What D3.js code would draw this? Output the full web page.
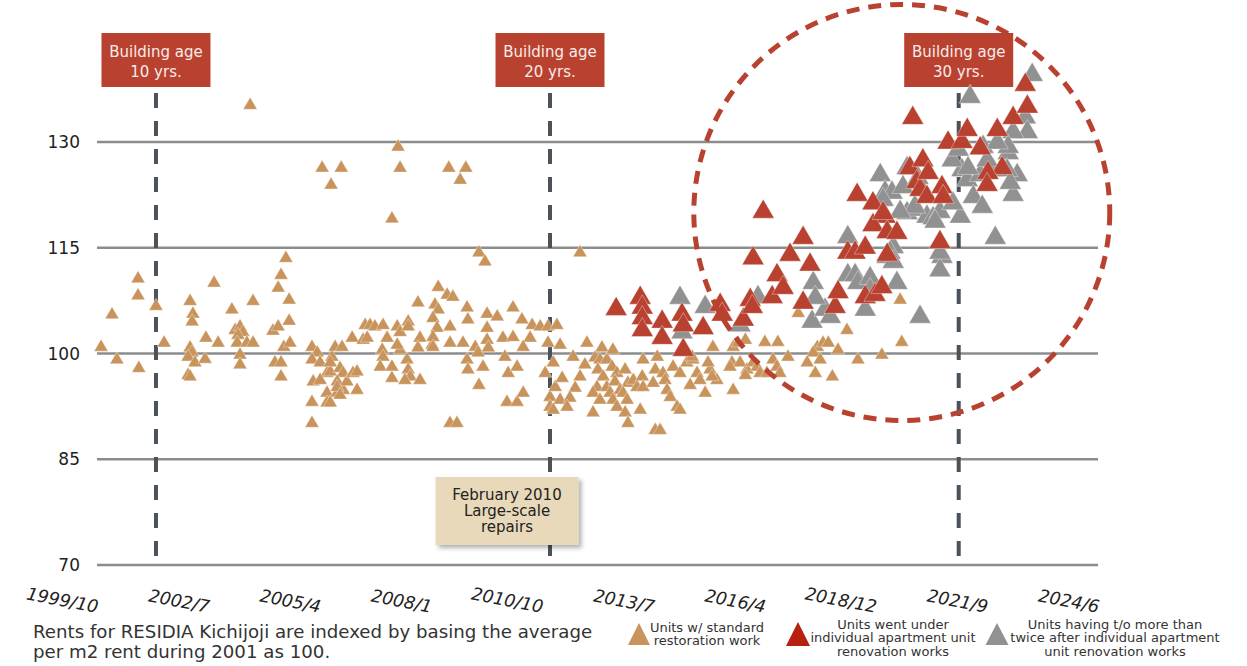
<!DOCTYPE html>
<html>
<head>
<meta charset="utf-8">
<script src="https://cdn.jsdelivr.net/npm/d3@7"></script>
<style>
  html, body { margin: 0; padding: 0; background: #fff; }
  svg { display: block; font-family: "DejaVu Sans", Verdana, sans-serif; }
</style>
</head>
<body>
<svg id="chart" width="1247" height="666"></svg>
<script>
// ---------------- DATA ----------------
// x tick labels (Excel date axis, major unit 1000 days from 1999/10/31)
const xTickLabels = ["1999/10","2002/7","2005/4","2008/1","2010/10","2013/7","2016/4","2018/12","2021/9","2024/6"];
const yTicks = [70, 85, 100, 115, 130];

// [decimal year, rent index]
const standard = [
[1999.93,100.9],[2000.20,105.5],[2000.32,99.1],[2000.84,110.6],[2000.84,108.2],[2000.86,97.9],[2001.28,106.7],[2001.48,101.5],
[2002.12,107.4],[2002.19,105.6],[2002.17,104.5],[2002.12,100.8],[2002.17,100.1],[2002.07,99.5],[2002.24,98.7],[2002.07,96.9],[2002.12,96.7],
[2002.51,102.2],[2002.49,99.2],[2002.71,110.0],[2002.81,101.5],[2003.15,106.2],[2003.23,103.3],[2003.35,103.8],[2003.42,103.0],[2003.30,102.6],
[2003.28,101.5],[2003.35,99.8],[2003.35,98.4],[2003.52,101.5],[2003.67,101.5],[2003.67,107.4],[2003.60,135.2],[2004.16,103.2],[2004.29,103.8],
[2004.21,98.7],[2004.36,98.7],[2004.36,96.7],[2004.43,100.9],[2004.58,101.5],[2004.48,113.5],[2004.36,111.1],[2004.29,109.3],[2004.56,107.6],
[2004.56,104.6],[2005.37,126.3],[2005.84,126.3],[2005.59,123.9],[2007.24,129.3],[2007.29,126.3],[2007.09,119.1],[2008.49,126.3],[2008.91,126.3],
[2008.77,124.6],[2009.23,114.3],[2009.38,113.0],[2011.72,114.3],
[2005.12,100.9],[2005.25,100.1],[2005.12,99.1],[2005.32,98.7],[2005.49,97.2],[2005.15,96.0],[2005.32,96.2],[2005.12,93.1],[2005.12,90.1],
[2005.49,94.4],[2005.49,93.0],[2005.61,99.5],[2005.57,97.4],[2005.74,94.4],[2005.89,94.8],[2005.81,97.9],[2005.89,97.2],[2005.74,96.0],
[2005.98,96.0],[2006.13,97.2],[2006.23,97.4],[2006.23,94.8],[2005.69,100.9],[2005.86,100.9],[2006.11,102.2],[2005.57,98.7],[2005.74,95.2],
[2005.57,93.0],[2005.81,94.1],
[2006.43,104.0],[2006.55,104.0],[2006.67,103.8],[2006.38,101.9],[2006.48,102.2],[2006.87,104.0],[2006.97,102.2],[2007.22,103.8],[2007.29,103.0],
[2007.49,104.5],[2007.49,103.8],[2006.85,100.5],[2006.87,99.5],[2006.80,98.1],[2007.09,98.1],[2007.09,96.5],[2007.29,100.5],[2007.22,101.2],
[2007.46,99.1],[2007.49,97.7],[2007.54,96.7],[2007.41,96.2],[2007.78,96.2],[2007.78,102.2],[2007.73,100.8],[2008.08,101.2],[2007.73,107.2],
[2008.23,109.4],[2008.45,108.3],[2008.59,108.0],[2008.15,106.9],[2008.23,106.2],[2008.10,105.0],[2008.20,103.6],[2008.10,102.3],[2008.10,100.9],
[2008.52,103.8],[2008.52,101.5],[2008.94,106.5],[2008.96,104.8],[2008.84,101.5],[2009.14,100.9],[2008.52,90.1],[2008.69,90.1],[2008.94,99.1],
[2008.96,97.7],[2009.23,95.5],[2009.21,100.1],[2009.33,98.1],[2009.43,105.6],[2009.68,105.2],[2010.07,106.5],[2010.29,104.8],[2009.43,103.6],
[2009.43,101.9],[2009.46,100.8],[2010.54,104.0],[2010.74,103.8],[2010.93,103.8],[2011.15,104.0],[2009.82,102.2],[2010.07,102.3],[2010.49,102.2],
[2010.32,100.9],[2009.87,99.5],[2009.95,97.2],[2010.17,98.1],[2009.92,93.1],[2010.17,93.1],[2010.32,94.4],[2010.86,97.2],[2010.98,93.8],
[2010.98,92.4],[2010.93,101.5],[2011.06,98.7],[2011.11,95.2],[2011.23,93.4],[2011.06,92.0],[2011.28,96.5],[2011.23,101.2],
[2011.89,101.5],[2011.55,99.5],[2011.84,98.4],[2011.72,96.7],[2011.60,95.1],[2011.47,93.7],[2011.40,92.4],[2012.09,99.4],[2012.26,100.8],
[2012.21,99.1],[2012.38,99.1],[2012.16,97.7],[2012.29,96.7],[2012.14,95.2],[2012.04,94.4],[2012.38,95.2],[2012.46,94.4],[2012.21,93.4],
[2012.04,91.6],[2012.53,100.5],[2012.51,98.1],[2012.63,97.2],[2012.58,96.0],[2012.71,94.8],[2012.53,93.4],[2012.63,92.4],[2012.83,97.7],
[2012.90,95.8],[2012.78,94.4],[2012.88,93.4],[2012.83,91.6],[2012.90,90.1],[2013.03,96.2],[2013.12,95.2],[2013.25,96.7],[2013.27,95.2],
[2013.20,92.0],[2013.57,89.1],[2013.69,89.1],[2013.62,99.5],[2013.57,97.7],[2013.52,95.8],[2013.76,97.2],[2013.81,96.2],[2013.86,94.8],
[2013.94,93.8],[2014.11,92.4],[2014.18,92.0],[2014.01,98.1],[2014.18,97.2],[2014.35,98.7],[2014.50,99.1],[2014.60,97.2],[2014.67,96.2],
[2014.80,94.4],[2014.99,100.9],[2014.92,97.7],[2015.09,96.2],[2015.49,100.9],[2015.61,101.5],[2015.46,98.7],[2015.66,98.7],[2015.83,97.7],
[2015.98,98.7],[2016.08,98.1],[2016.15,97.2],[2015.49,94.8],[2015.79,101.9],[2016.27,101.6],[2016.59,101.6],[2016.84,99.5],[2016.47,99.1],
[2016.57,98.1],[2017.09,105.7],[2018.29,103.3],[2017.56,100.9],[2017.70,101.5],[2017.83,101.5],[2017.46,100.1],[2017.63,99.1],[2017.31,98.7],
[2017.51,97.2],[2017.93,96.7],[2018.07,100.5],[2018.56,99.1],[2019.15,99.8],[2019.64,101.6],[2019.60,107.6],[2013.27,99.1],[2014.43,95.5],
[2014.48,99.5],[2014.87,98.7],[2014.97,96.7],[2015.41,98.1],[2015.79,96.9],[2016.32,97.2],[2016.64,97.2]
];

const renovated = [
[2012.61,106.3],[2013.20,107.9],[2013.25,106.5],[2013.25,105.0],[2013.25,103.3],[2013.74,104.5],[2013.74,102.2],[2014.23,105.5],
[2014.26,104.0],[2014.26,100.5],[2014.75,103.6],[2015.17,106.9],[2015.22,105.5],[2015.74,104.8],[2015.91,107.6],[2015.96,106.6],
[2016.45,108.0],[2016.57,111.1],[2016.72,109.3],[2016.23,120.1],[2015.98,113.5],[2016.89,114.0],[2017.21,116.4],[2017.38,112.6],
[2017.21,107.2],[2018.00,106.6],[2018.07,108.7],[2018.31,114.3],[2018.49,114.3],[2018.54,122.5],[2018.74,115.0],[2018.74,108.0],
[2018.98,108.3],[2019.15,109.4],[2018.93,121.3],[2019.23,119.4],[2018.93,118.2],[2019.28,117.2],[2019.52,117.1],[2019.28,114.0],
[2019.18,119.9],[2019.91,133.4],[2019.84,126.3],[2020.16,127.4],[2020.01,124.3],[2020.09,123.2],[2020.26,122.2],[2020.63,123.6],
[2020.66,122.2],[2020.29,125.6],[2020.58,115.8],[2020.78,129.9],[2021.12,130.0],[2021.25,131.7],[2021.57,129.1],[2021.99,131.7],
[2022.38,133.4],[2022.68,138.1],[2022.73,135.0],[2022.11,126.3],[2021.76,125.6],[2021.74,123.9]
];

const twiceRenovated = [
[2014.18,107.9],[2014.80,106.6],[2014.23,103.0],[2015.66,104.0],[2016.10,108.0],[2017.46,110.0],[2017.43,104.5],[2017.75,106.2],
[2017.88,105.2],[2017.51,107.9],[2018.31,116.5],[2018.31,111.1],[2018.49,111.1],[2018.56,110.0],[2018.86,110.7],[2018.86,109.0],
[2018.74,106.2],[2019.52,110.0],[2019.28,113.7],[2019.43,115.1],[2020.09,105.2],[2020.63,113.7],[2020.58,111.8],[2019.11,125.3],
[2019.23,122.9],[2019.40,122.8],[2019.18,121.8],[2019.77,126.3],[2019.67,123.6],[2019.77,119.9],[2020.01,120.4],[2020.26,119.4],
[2020.41,119.2],[2020.58,120.1],[2021.08,119.4],[2021.12,126.0],[2021.25,124.6],[2021.57,125.3],[2021.40,122.2],[2021.62,120.8],
[2021.89,126.0],[2022.26,128.4],[2022.48,125.3],[2022.38,122.5],[2021.94,116.4],[2020.88,127.4],[2021.03,128.9],[2021.32,136.4],
[2022.85,139.5],[2022.68,133.5],[2022.73,131.4],[2022.38,131.4],[2022.26,129.3],[2021.64,129.3],[2021.99,129.9],[2021.27,126.3],
[2021.74,127.4],[2022.23,126.0],[2022.31,124.2],[2020.90,121.3],[2020.46,118.7],[2019.96,120.8],[2019.60,120.1],[2020.04,124.9],
[2019.35,114.3],[2019.43,113.0],[2020.58,114.3]
];

// building age markers
const ageLines = [2001.28, 2010.98, 2021.04];
const ageLabels = [["Building age","10 yrs."],["Building age","20 yrs."],["Building age","30 yrs."]];
const repairNote = ["February 2010","Large-scale","repairs"];
// highlighted zone (centre year, centre index, radius in index points)
const highlight = {year: 2019.64, value: 120.0, radius: 29.5};

const legendItems = [
  {key:"standard", lines:["Units w/ standard","restoration work"]},
  {key:"renovated", lines:["Units went under","individual apartment unit","renovation works"]},
  {key:"twice", lines:["Units having t/o more than","twice after individual apartment","unit renovation works"]}
];
const footnote = ["Rents for RESIDIA Kichijoji are indexed by basing the average","per m2 rent during 2001 as 100."];

// ---------------- CHART ----------------
const svg = d3.select("#chart");
const colors = {standard:"#c8945c", renovated:"#b94130", twice:"#919191"};
const legendColors = {standard:"#c8945c", renovated:"#b71f0f", twice:"#919191"};

function yearToDate(y){
  const yr = Math.floor(y);
  const start = new Date(yr,0,1).getTime();
  return new Date(start + (y-yr)*365.25*864e5);
}
const start = new Date(1999,9,31);
const xTicks = d3.range(xTickLabels.length).map(i => d3.timeDay.offset(start, 1000*i));
const x = d3.scaleTime().domain([start, xTicks[xTicks.length-1]]).range([97, 1098]);
const y = d3.scaleLinear().domain([70,130]).range([565,142]);

// defs
const defs = svg.append("defs");
const f = defs.append("filter").attr("id","shadow").attr("x","-10%").attr("y","-10%").attr("width","130%").attr("height","140%");
f.append("feDropShadow").attr("dx",3).attr("dy",3).attr("stdDeviation",2).attr("flood-color","#000").attr("flood-opacity",0.3);

// gridlines
svg.append("g").selectAll("line").data(yTicks).join("line")
  .attr("x1", x.range()[0]).attr("x2", x.range()[1])
  .attr("y1", d=>y(d)).attr("y2", d=>y(d))
  .attr("stroke","#8c8c8c").attr("stroke-width",2.5);

// y labels
svg.append("g").selectAll("text").data(yTicks).join("text")
  .attr("x",80).attr("y",d=>y(d)).attr("dy","0.36em")
  .attr("text-anchor","end").attr("font-size",17).attr("fill","#222")
  .text(d=>d);

// x labels
svg.append("g").selectAll("text").data(xTicks).join("text")
  .attr("transform",(d)=>`translate(${x(d)},613) rotate(11)`)
  .attr("text-anchor","end").attr("font-size",17.5).attr("font-style","italic").attr("fill","#222")
  .text((d,i)=>xTickLabels[i]);

// vertical dashed lines
svg.append("g").selectAll("line").data(ageLines).join("line")
  .attr("x1",d=>x(yearToDate(d))).attr("x2",d=>x(yearToDate(d)))
  .attr("y1",93).attr("y2",560)
  .attr("stroke","#4b525a").attr("stroke-width",4).attr("stroke-dasharray","15,13");

// building-age boxes
const boxes = svg.append("g").selectAll("g").data(ageLines).join("g")
  .attr("transform",d=>`translate(${x(yearToDate(d))},33)`);
boxes.append("rect").attr("x",-54.5).attr("y",0).attr("width",109).attr("height",54).attr("fill","#b94130");
boxes.each(function(d,i){
  d3.select(this).selectAll("text").data(ageLabels[i]).join("text")
    .attr("x",0).attr("y",(t,j)=>19+j*20).attr("dy","0.35em")
    .attr("text-anchor","middle").attr("font-size",15).attr("fill","#f7ece8").text(t=>t);
});

// repair note
const noteX = x(yearToDate(ageLines[1])) - 43;
const note = svg.append("g").attr("transform",`translate(${noteX},477)`);
note.append("rect").attr("x",-71.5).attr("y",0).attr("width",143).attr("height",68)
  .attr("fill","#e8d9ba").attr("filter","url(#shadow)");
note.selectAll("text").data(repairNote).join("text")
  .attr("x",0).attr("y",(t,j)=>18+j*16).attr("dy","0.35em")
  .attr("text-anchor","middle").attr("font-size",15).attr("fill","#222").text(t=>t);

// markers
function tri(w,h){ return `M0,${-2*h/3}L${w/2},${h/3}L${-w/2},${h/3}Z`; }
function drawSeries(data, color, w, h){
  svg.append("g").selectAll("path").data(data).join("path")
    .attr("transform",d=>`translate(${x(yearToDate(d[0]))},${y(d[1])})`)
    .attr("d",tri(w,h)).attr("fill",color)
    .attr("stroke","#fff").attr("stroke-opacity",0.45).attr("stroke-width",0.8);
}
drawSeries(standard, colors.standard, 14, 12);
drawSeries(twiceRenovated, colors.twice, 22, 19);
drawSeries(renovated, colors.renovated, 22, 19);

// highlight circle
const rPx = y(highlight.value - highlight.radius) - y(highlight.value);
svg.append("circle")
  .attr("cx", x(yearToDate(highlight.year))).attr("cy", y(highlight.value)).attr("r", rPx)
  .attr("fill","none").attr("stroke","#b94130").attr("stroke-width",5).attr("stroke-dasharray","13,9");

// legend
const legendPos = [{tx:639, cx:707},{tx:798, cx:893},{tx:997, cx:1115}];
const legendSizes = {standard:[22,22], renovated:[24,24], twice:[23,22]};
legendItems.forEach((it,i)=>{
  const g = svg.append("g");
  const [w,h] = legendSizes[it.key];
  g.append("path").attr("transform",`translate(${legendPos[i].tx},${634+h/6})`).attr("d",tri(w,h)).attr("fill",legendColors[it.key]);
  const n = it.lines.length;
  const y0 = n===2 ? 627 : 624;
  g.selectAll("text").data(it.lines).join("text")
    .attr("x",legendPos[i].cx).attr("y",(t,j)=>y0+j*13.5).attr("dy","0.35em")
    .attr("text-anchor","middle").attr("font-size",13).attr("fill","#333").text(t=>t);
});

// footnote
svg.append("g").selectAll("text").data(footnote).join("text")
  .attr("x",33).attr("y",(t,j)=>638+j*20)
  .attr("font-size",18.2).attr("fill","#333").text(t=>t);
</script>
</body>
</html>
